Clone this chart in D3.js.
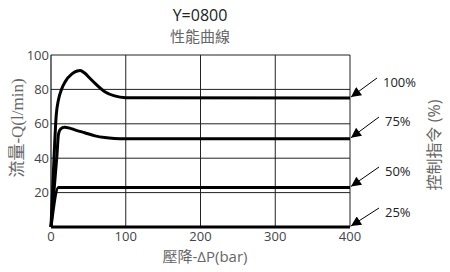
<!DOCTYPE html>
<html><head><meta charset="utf-8">
<script src="https://cdn.jsdelivr.net/npm/d3@7"></script>
<style>body{margin:0;background:#fff}text{font-family:"Open Sans","Noto Sans CJK TC",sans-serif}</style>
</head><body><svg id="c" width="450" height="272"></svg>
<script>
const xTicks = [0, 100, 200, 300, 400];
const yTicks = [20, 40, 60, 80, 100];
const seriesNames = ["100%", "75%", "50%", "25%"];
const curve100 = [[0,0],[4,40],[7,65],[10,74],[14,80],[19,84.5],[28,89],[35,90.7],[39,91],[45,89.5],[52,86.5],[59,83.5],[72,78.7],[85,76.2],[100,75.2],[400,75]];
const curve75 = [[0,0],[8,42],[10,54],[13,57],[18,58],[25,57.5],[32,56.5],[45,54.8],[59,53],[72,52],[85,51.5],[100,51.3],[400,51.3]];
const curve50 = [[0,0],[10,23],[400,23]];
const curve25 = [[0,0],[400,0]];
const seriesData = [curve100, curve75, curve50, curve25];
const labelPos = [[388,82],[390,121],[390,171],[390,212]];

const svg = d3.select("#c");
const x = d3.scaleLinear().domain([0,400]).range([51,350]);
const y = d3.scaleLinear().domain([0,100]).range([227,55]);

svg.append("defs").append("marker").attr("id","ah").attr("viewBox","0 0 10 10")
  .attr("refX",10).attr("refY",5).attr("markerWidth",15).attr("markerHeight",10)
  .attr("markerUnits","userSpaceOnUse").attr("orient","auto")
  .append("path").attr("d","M0,0L10,5L0,10Z").attr("fill","#000");

// grid
svg.append("g").selectAll("line").data(yTicks).join("line")
  .attr("x1",x(0)).attr("x2",x(400)).attr("y1",d=>y(d)).attr("y2",d=>y(d))
  .attr("stroke","#222").attr("stroke-width",1);
svg.append("g").selectAll("line").data(xTicks.slice(1)).join("line")
  .attr("x1",d=>x(d)).attr("x2",d=>x(d)).attr("y1",y(0)).attr("y2",y(100))
  .attr("stroke","#222").attr("stroke-width",1);
svg.append("line").attr("x1",x(0)).attr("x2",x(0)).attr("y1",y(0)).attr("y2",y(100)).attr("stroke","#111").attr("stroke-width",1.2);

// tick labels
svg.append("g").selectAll("text").data(yTicks).join("text")
  .attr("x",x(0)-2).attr("y",d=>y(d)).attr("dy","0.35em").attr("text-anchor","end")
  .attr("font-size",13).attr("fill","#444").text(d=>d);
svg.append("g").selectAll("text").data(xTicks).join("text")
  .attr("x",d=>x(d)).attr("y",236).attr("dy","0.35em").attr("text-anchor","middle")
  .attr("font-size",13).attr("fill","#444").text(d=>d);

// curves
const line = d3.line().x(d=>x(d[0])).y(d=>y(d[1])).curve(d3.curveMonotoneX);
svg.append("g").selectAll("path").data(seriesData).join("path")
  .attr("d",line).attr("fill","none").attr("stroke","#000").attr("stroke-width",3)
  .attr("stroke-linejoin","round");

// labels with arrows
svg.append("g").selectAll("line").data(seriesData).join("line")
  .attr("x1",(d,i)=>labelPos[i][0]-11).attr("y1",(d,i)=>labelPos[i][1]-4)
  .attr("x2",d=>x(d[d.length-1][0])+1).attr("y2",d=>y(d[d.length-1][1])-1)
  .attr("stroke","#000").attr("stroke-width",1).attr("marker-end","url(#ah)");
svg.append("g").selectAll("text").data(seriesNames).join("text")
  .attr("x",(d,i)=>labelPos[i][0]-5).attr("y",(d,i)=>labelPos[i][1]).attr("dy","0.35em")
  .attr("font-size",13).attr("fill","#222").text(d=>d);

// titles
svg.append("text").attr("x",200).attr("y",15).attr("dy","0.35em").attr("text-anchor","middle")
  .attr("font-size",16).attr("fill","#222").text("Y=0800");
svg.append("text").attr("x",200).attr("y",37).attr("dy","0.35em").attr("text-anchor","middle")
  .attr("font-size",15).attr("fill","#666").text("性能曲線");
svg.append("text").attr("x",205).attr("y",257).attr("dy","0.35em").attr("text-anchor","middle")
  .attr("font-size",15).attr("fill","#666").text("壓降-ΔP(bar)");
svg.append("text").attr("transform","translate(17,128) rotate(-90)").attr("dy","0.35em").attr("text-anchor","middle")
  .attr("font-size",17).attr("fill","#666").style("font-family","'Liberation Serif','Noto Sans CJK TC',serif").text("流量-Q(l/min)");
svg.append("text").attr("transform","translate(434,145) rotate(-90)").attr("dy","0.35em").attr("text-anchor","middle")
  .attr("font-size",16).attr("fill","#666").text("控制指令 (%)");
</script></body></html>
